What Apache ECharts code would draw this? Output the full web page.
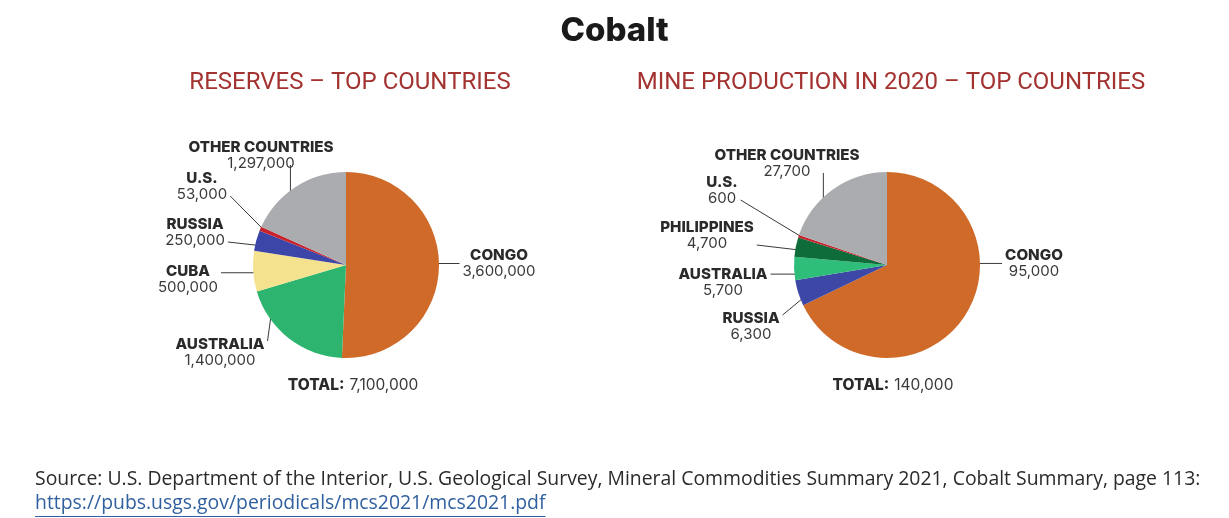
<!DOCTYPE html>
<html>
<head>
<meta charset="utf-8">
<title>Cobalt</title>
<script src="https://cdn.jsdelivr.net/npm/echarts@6/dist/echarts.min.js"></script>
<style>
  html, body { margin: 0; padding: 0; background: #ffffff; }
  #chart { width: 1229px; height: 518px; }
</style>
</head>
<body>
<div id="chart"></div>
<script>
// Reserves by country (tonnes), clockwise from 12 o'clock
const reserveCountries = ['CONGO', 'AUSTRALIA', 'CUBA', 'RUSSIA', 'U.S.', 'OTHER COUNTRIES'];
const reserveValues = [3600000, 1400000, 500000, 250000, 53000, 1297000];

// Mine production in 2020 by country (tonnes), clockwise from 12 o'clock
const productionCountries = ['CONGO', 'RUSSIA', 'AUSTRALIA', 'PHILIPPINES', 'U.S.', 'OTHER COUNTRIES'];
const productionValues = [95000, 6300, 5700, 4700, 600, 27700];

const reserveColors = ['#cf6a28', '#2db56f', '#f5e28f', '#3b46a8', '#c8232d', '#abacaf'];
const productionColors = ['#cf6a28', '#3d47a6', '#2fbd7a', '#0e6b3a', '#c8232d', '#abacaf'];

// Where each country label sits (centre of the text block, top edge)
const reserveLabelSpots = [[499, 247], [220, 336], [188, 263], [195, 216], [202, 170], [261, 139]];
const productionLabelSpots = [[1034, 247], [751, 310], [723, 266], [707, 219], [722, 174], [787, 147]];

const fmt = v => v.toLocaleString('en-US');
const sum = arr => arr.reduce((a, b) => a + b, 0);

const LABEL_FONT = 'Inter';
const richLabel = {
  n: { fontFamily: LABEL_FONT, fontWeight: 800, fontSize: 15.2, color: '#2a2a2a', lineHeight: 16, align: 'center' },
  v: { fontFamily: LABEL_FONT, fontWeight: 400, fontSize: 15, color: '#3a3a3a', lineHeight: 16, align: 'center' }
};

let chart;

// Straight leader: starts on the slice rim, turned toward the label, and
// ends just outside the closest side of the label box.
function leader(params, spot) {
  const w = params.labelRect.width;
  const h = params.labelRect.height;
  const rx = spot[0] - w / 2;
  const ry = spot[1];
  let start = params.labelLinePoints ? params.labelLinePoints[0] : null;
  try {
    const lay = chart.getModel().getSeriesByIndex(params.seriesIndex).getData().getItemLayout(params.dataIndex);
    const lo = Math.min(lay.startAngle, lay.endAngle);
    const hi = Math.max(lay.startAngle, lay.endAngle);
    let a = Math.atan2(ry + h / 2 - lay.cy, spot[0] - lay.cx);
    while (a < lo) a += Math.PI * 2;
    while (a > hi + Math.PI) a -= Math.PI * 2;
    const margin = Math.min((hi - lo) * 0.25, 0.15);
    a = Math.min(Math.max(a, lo + margin), hi - margin);
    const r = lay.r * 0.98;
    start = [lay.cx + r * Math.cos(a), lay.cy + r * Math.sin(a)];
  } catch (e) { /* keep default start */ }
  if (!start) return null;
  const gap = 3;
  const ex = Math.min(Math.max(start[0], rx - gap), rx + w + gap);
  const ey = Math.min(Math.max(start[1], ry + 5), ry + h - 5);
  return [[start[0], start[1]], [ex, ey], [ex, ey]];
}

function pieSeries(names, values, colors, spots, cx) {
  return {
    type: 'pie',
    center: [cx, 265],
    radius: 93,
    startAngle: 90,
    clockwise: true,
    silent: true,
    animation: false,
    itemStyle: { borderWidth: 0 },
    data: names.map((n, i) => ({ name: n, value: values[i], itemStyle: { color: colors[i] } })),
    label: {
      show: true,
      position: 'outside',
      formatter: p => '{n|' + p.name + '}\n{v|' + fmt(p.value) + '}',
      rich: richLabel,
      align: 'center'
    },
    labelLine: {
      show: true,
      length: 10,
      length2: 10,
      lineStyle: { color: '#3a3a3a', width: 1 }
    },
    labelLayout: params => {
      const s = spots[params.dataIndex];
      const out = { x: s[0], y: s[1], align: 'center', verticalAlign: 'top' };
      const pts = leader(params, s);
      if (pts) out.labelLinePoints = pts;
      return out;
    }
  };
}

chart = echarts.init(document.getElementById('chart'), null, { renderer: 'canvas' });

const totalRich = {
  b: { fontFamily: LABEL_FONT, fontWeight: 800, fontSize: 15.5, color: '#2a2a2a' },
  r: { fontFamily: LABEL_FONT, fontWeight: 400, fontSize: 15.5, color: '#3a3a3a' }
};

// Underline width for the source link
const linkText = 'https://pubs.usgs.gov/periodicals/mcs2021/mcs2021.pdf';
const SOURCE_FONT = '"Open Sans", sans-serif';
const SOURCE_SIZE = 19.4;
const measureCtx = document.createElement('canvas').getContext('2d');
measureCtx.font = SOURCE_SIZE + 'px ' + SOURCE_FONT;
const linkWidth = measureCtx.measureText(linkText).width;

chart.setOption({
  backgroundColor: '#ffffff',
  title: [
    {
      text: 'Cobalt',
      left: 'center',
      top: 10,
      textStyle: { fontFamily: 'Inter', fontWeight: 800, fontSize: 33, color: '#1a1a1a' }
    },
    {
      text: 'RESERVES \u2013 TOP COUNTRIES',
      left: 345,
      top: 66,
      textAlign: 'center',
      textStyle: { fontFamily: 'Roboto', fontWeight: 400, fontSize: 24, color: '#a33330' }
    },
    {
      text: 'MINE PRODUCTION IN 2020 \u2013 TOP COUNTRIES',
      left: 886,
      top: 66,
      textAlign: 'center',
      textStyle: { fontFamily: 'Roboto', fontWeight: 400, fontSize: 24, color: '#a33330' }
    },
    {
      text: '{b|TOTAL:} {r|' + fmt(sum(reserveValues)) + '}',
      left: 348,
      top: 371,
      textAlign: 'center',
      textStyle: { rich: totalRich }
    },
    {
      text: '{b|TOTAL:} {r|' + fmt(sum(productionValues)) + '}',
      left: 888,
      top: 371,
      textAlign: 'center',
      textStyle: { rich: totalRich }
    }
  ],
  graphic: [
    {
      type: 'text',
      left: 35,
      top: 470,
      style: {
        text: 'Source: U.S. Department of the Interior, U.S. Geological Survey, Mineral Commodities Summary 2021, Cobalt Summary, page 113:',
        font: SOURCE_SIZE + 'px ' + SOURCE_FONT,
        fill: '#2b2b2b'
      }
    },
    {
      type: 'text',
      left: 35,
      top: 494,
      style: {
        text: linkText,
        font: SOURCE_SIZE + 'px ' + SOURCE_FONT,
        fill: '#2f5f9e'
      }
    },
    {
      type: 'rect',
      left: 35,
      top: 516,
      shape: { width: linkWidth, height: 1 },
      style: { fill: '#2f5f9e' }
    }
  ],
  series: [
    pieSeries(reserveCountries, reserveValues, reserveColors, reserveLabelSpots, 346),
    pieSeries(productionCountries, productionValues, productionColors, productionLabelSpots, 887)
  ]
});
</script>
</body>
</html>
